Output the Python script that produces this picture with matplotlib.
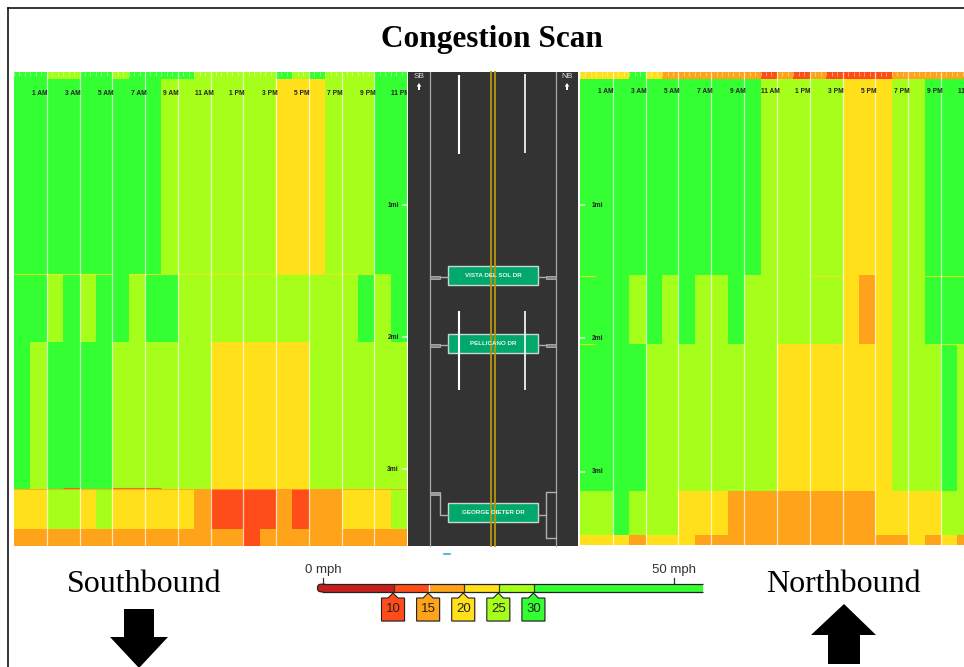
import matplotlib
matplotlib.use("Agg")
import matplotlib.pyplot as plt
import numpy as np
from matplotlib.colors import ListedColormap, BoundaryNorm
from matplotlib.patches import Polygon, Rectangle, FancyBboxPatch

W, H = 964, 667
SANS = ['Liberation Sans', 'DejaVu Sans']
SERIF = ['Liberation Serif', 'DejaVu Serif']

# speed categories (mph)
G, L, Y, O, R = 35, 27, 22, 17, 12
speed_edges = [0, 10, 15, 20, 25, 30, 55]
speed_colors = ['#c81e1e', '#ff4d1a', '#ffa31a', '#ffe01a', '#a6ff1a', '#33ff33']
hour_labels = ['1 AM', '3 AM', '5 AM', '7 AM', '9 AM', '11 AM',
               '1 PM', '3 PM', '5 PM', '7 PM', '9 PM', '11 PM']

# southbound: mile edges of the rows and one list of 24 hourly speeds per row
sb_edges = [-0.01, 0.043, 1.524, 2.039, 3.149, 3.452, 3.581]
sb_strip = [G]*2 + [L]*2 + [G]*2 + [L] + [G]*4 + [L]*5 + [G, L, G] + [L]*3 + [G]*2
sb_band1 = [G]*9 + [L]*7 + [Y]*3 + [L]*3 + [G]*2
sb_band2 = [G]*2 + [L, G, L, G, G, L, G, G] + [L]*11 + [G, L, G]
sb_band3 = [G, L] + [G]*4 + [L]*6 + [Y]*6 + [L]*6
sb_band4 = [Y]*2 + [L]*2 + [Y, L] + [Y]*5 + [O] + [R]*4 + [O, R, O, O] + [Y]*3 + [L]
sb_band5 = [O]*14 + [R] + [O]*9

# northbound
nb_edges = [0, 0.052, 1.524, 2.041, 3.142, 3.476, 3.55]
nb_strip = [Y]*3 + [G, Y] + [O]*6 + [R, O, R, O] + [R]*4 + [O]*5
nb_band1 = [G]*11 + [L]*5 + [Y]*3 + [L]*2 + [G]*3
nb_band2 = [G]*3 + [L, G, L, G, L, L, G] + [L]*6 + [Y, O, Y, L, L] + [G]*3
nb_band3 = [G]*4 + [L]*8 + [Y]*7 + [L]*3 + [G, L]
nb_band4 = [L, L, G, L, L, L, Y, Y, Y] + [O]*9 + [Y]*4 + [L]*2
nb_band5 = [Y]*3 + [O] + [Y]*3 + [O]*13 + [Y, O, Y, O]

# thin transition lines between rows: (mile, first hour, last hour, colour index speed)
sb_seams = [(1.524, 0, 6, Y), (1.524, 7, 22, Y), (3.149, 0, 24, O), (3.145, 3, 4, R),
            (3.145, 6, 9, R)]
nb_seams = [(1.530, 0, 1, Y), (1.530, 14, 16, Y), (1.530, 21, 24, Y),
            (2.045, 0, 1, Y), (2.045, 22, 23, Y)]

mile_ticks = [1, 2, 3]
legend_stops = [10, 15, 20, 25, 30]
legend_ticks = [0, 50]
street_names = ['VISTA DEL SOL DR', 'PELLICANO DR', 'GEORGE DIETER DR']

cmap = ListedColormap(speed_colors)
norm = BoundaryNorm(speed_edges, cmap.N)
fig = plt.figure(figsize=(W/100, H/100), dpi=100, facecolor='white')


def px_axes(x0, y0, x1, y1, **kw):
    return fig.add_axes([x0/W, 1-y1/H, (x1-x0)/W, (y1-y0)/H], **kw)


def panel(box, xlim, edges, rows, seams, tick_side):
    ax = px_axes(*box)
    grid = np.array(rows, dtype=float)
    ax.pcolormesh(np.arange(25), edges, grid, cmap=cmap, norm=norm, edgecolors='none')
    ax.set_xlim(*xlim)
    ax.set_ylim(edges[-1], edges[0])
    ax.axis('off')
    for m, a, b, s in seams:
        ax.hlines(m, a, b, color=cmap(norm(s)), lw=0.8, alpha=0.8)
    ax.vlines(np.arange(2, 24, 2), edges[0], edges[-1], color='white', lw=0.9, alpha=0.7)
    t = np.arange(0, 24, 1/3)
    ax.vlines(t, edges[0], edges[0]+0.028, color='white', lw=0.6, alpha=0.55)
    for i, lab in enumerate(hour_labels):
        ax.text(1.6+2*i, 0.15, lab, ha='center', va='center', fontsize=4.8,
                family=SANS, weight='bold', color='#222222', clip_on=True)
    for m in mile_ticks:
        if tick_side == 'right':
            ax.hlines(m, 23.7, 24, color='white', lw=1.1, alpha=0.85)
            ax.text(23.5, m, f'{m}mi', ha='right', va='center', fontsize=4.8,
                    family=SANS, weight='bold', color='#222222')
        else:
            ax.hlines(m, 0, 0.3, color='white', lw=1.1, alpha=0.85)
            ax.text(0.72, m, f'{m}mi', ha='left', va='center', fontsize=4.8,
                    family=SANS, weight='bold', color='#222222')
    return ax


sb = panel((14, 72, 407, 546), (0, 24), sb_edges,
           [sb_strip, sb_band1, sb_band2, sb_band3, sb_band4, sb_band5], sb_seams, 'right')
sb.hlines(sb_edges[-1], 0, 24, color='#777777', lw=0.8, linestyles=(0, (1, 1)))
nb = panel((580, 72, 964, 545), (0, 23.4), nb_edges,
           [nb_strip, nb_band1, nb_band2, nb_band3, nb_band4, nb_band5], nb_seams, 'left')

# full-figure overlay in pixel coordinates for road, frame, labels and arrows
ov = fig.add_axes([0, 0, 1, 1], facecolor='none')
ov.set_xlim(0, W)
ov.set_ylim(H, 0)
ov.axis('off')

ov.plot([8, 8], [8, H], color='black', lw=1.1)
ov.plot([8, W], [8, 8], color='black', lw=1.1)
ov.text(491.5, 40, 'Congestion Scan', ha='center', va='center', fontsize=22.5,
        weight='bold', family=SERIF, color='black')

# road
ov.add_patch(Rectangle((408, 72), 170, 474, fc='#333333', ec='none'))
for x in (430, 556):
    ov.plot([x, x], [72, 546], color='#a8a8a8', lw=0.9)
for x in (491, 495):
    ov.plot([x, x], [72, 546], color='#b8960c', lw=1.3)
for x, (a, b) in ((459, (75, 154)), (525, (74, 153)), (459, (311, 390)), (525, (311, 390))):
    ov.plot([x, x], [a, b], color='white', lw=1.5 if x == 459 else 1.2, solid_capstyle='butt')

ov.text(419, 77, 'SB', ha='center', va='center', fontsize=6, family=SANS, color='#dddddd')
ov.text(567, 77, 'NB', ha='center', va='center', fontsize=6, family=SANS, color='#dddddd')
for x in (419, 567):
    ov.add_patch(Polygon([(x, 83), (x+2.3, 86.5), (x+1, 86.5), (x+1, 90), (x-1, 90),
                          (x-1, 86.5), (x-2.3, 86.5)], fc='white', ec='none'))

grey = '#b0b0b0'
for yc in (277, 345):
    ov.plot([440, 448], [yc, yc], color=grey, lw=1)
    ov.plot([538, 546], [yc, yc], color=grey, lw=1)
    ov.add_patch(Rectangle((430, yc-1.5), 10, 3, fc='#888888', ec=grey, lw=0.6))
    ov.add_patch(Rectangle((546, yc-1.5), 10, 3, fc='#888888', ec=grey, lw=0.6))
ov.add_patch(Rectangle((430, 491.5), 10, 3, fc='#999999', ec=grey, lw=0.6))
ov.plot([440, 440, 448], [493, 515, 515], color=grey, lw=1)
ov.plot([556, 546, 546, 556], [492, 492, 538, 538], color=grey, lw=1)
ov.plot([538, 546], [515, 515], color=grey, lw=1)

for name, y0 in zip(street_names, (266, 334, 503)):
    ov.add_patch(Rectangle((448, y0), 90, 19, fc='#00a86b', ec='#c8d8d0', lw=1))
    ov.text(493, y0+9.7, name, ha='center', va='center', fontsize=4.5, weight='bold',
            family=SANS, color='#e8f5ee')
ov.plot([444, 450], [553.5, 553.5], color='#35a8e0', lw=1.2)

# direction captions and arrows
ov.text(144, 585, 'Southbound', ha='center', va='center', fontsize=23, family=SERIF, color='black')
ov.text(843, 584, 'Northbound', ha='center', va='center', fontsize=23, family=SERIF, color='black')
ov.add_patch(Polygon([(124, 609), (154, 609), (154, 637), (168, 637), (139, 668),
                      (110, 637), (124, 637)], fc='black', ec='none', clip_on=True))
ov.add_patch(Polygon([(844, 604), (876, 635), (860, 635), (860, 664), (828, 664),
                      (828, 635), (811, 635)], fc='black', ec='none'))

# speed legend: its own axis in mph
leg = px_axes(317, 584, 703, 592)
leg.set_zorder(3)
lx0, lx1 = (317-323.3)/7.02, (703-323.3)/7.02
leg.set_xlim(lx0, lx1)
leg.set_ylim(1, 0)
leg.axis('off')
leg.add_patch(FancyBboxPatch((317.5, 584.2), 10, 7.6, boxstyle='round,pad=0,rounding_size=3.6',
                             transform=ov.transData, fc='#c81e1e', ec='#222222', lw=0.9,
                             clip_on=False, zorder=1))
for i, (a, b, c) in enumerate(zip(speed_edges[:-1], speed_edges[1:], speed_colors)):
    a2 = max(a, lx0+0.75)
    b2 = min(b, lx1)
    leg.add_patch(Rectangle((a2, 0), b2-a2, 1, fc=c, ec='none', clip_on=False, zorder=2))
leg.vlines(legend_stops, 0, 1, color='#333333', lw=0.9, zorder=3)
leg.vlines([15], 0, 1, color='white', lw=1.0, zorder=3)
leg.hlines([0, 1], lx0+0.75, lx1, color='#222222', lw=0.9, clip_on=False, zorder=3)


def mx(v):
    return 323.3 + 7.02*v


for t in legend_ticks:
    ov.plot([mx(t), mx(t)], [578, 584], color='#333333', lw=0.9)
    ov.text(mx(t), 570, f'{t} mph', ha='center', va='center', fontsize=9.5,
            family=SANS, color='#333333')
for s in legend_stops:
    x = mx(s) - 0.5
    pts = [(x, 593), (x+5, 598), (x+11.5, 598), (x+11.5, 621), (x-11.5, 621), (x-11.5, 598), (x-5, 598)]
    ov.add_patch(Polygon([(a+0.8, b+0.8) for a, b in pts], fc='#b0b0b0', ec='none', alpha=0.6))
    ov.add_patch(Polygon(pts, fc=cmap(norm(s+0.001)), ec='#222222', lw=0.8))
    ov.text(x, 608.5, str(s), ha='center', va='center', fontsize=9.5, family=SANS, color='#222222')

fig.savefig('out.png', dpi=100)
